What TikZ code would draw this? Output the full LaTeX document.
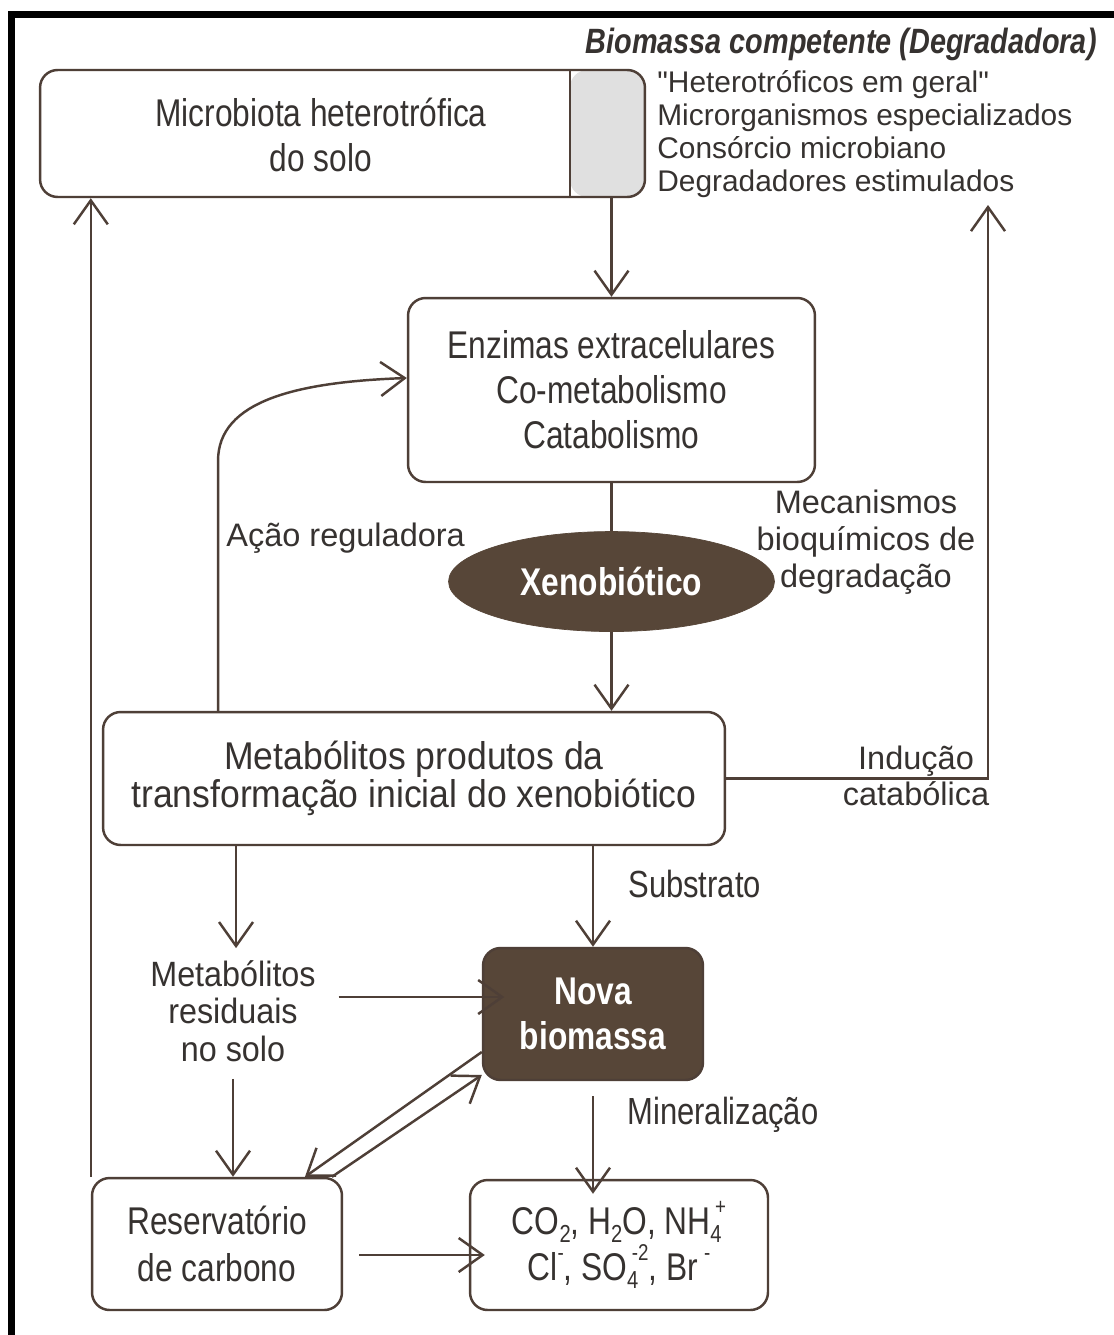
\documentclass[tikz,border=0pt]{standalone}
\usepackage{fontspec}
\setmainfont{Liberation Sans}
\newfontfamily\condfont[FakeStretch=0.82]{Liberation Sans}
\newfontfamily\midfont[FakeStretch=0.92]{Liberation Sans}
\newfontfamily\listfont[Ligatures=TeXOff]{Liberation Sans}
\usepackage{xcolor}
\usepackage{tikz}
\usetikzlibrary{arrows.meta,positioning,shapes.geometric}
\definecolor{lnc}{HTML}{4E3F37}
\definecolor{txc}{HTML}{363230}
\definecolor{dkc}{HTML}{574638}
\definecolor{stripc}{HTML}{E0E0E0}
\newcommand{\lowidx}[1]{\raisebox{-0.4ex}{\fontsize{14pt}{14pt}\selectfont #1}}
\newcommand{\highidx}[1]{\raisebox{0.95ex}{\fontsize{13pt}{13pt}\selectfont #1}}
\newcommand{\ionsup}[2]{\rlap{\lowidx{#1}}\kern0.12em\highidx{#2}}
\tikzset{
  fbox/.style={draw=lnc, line width=1.4pt, rounded corners=10pt, align=center, text=txc, inner sep=0pt, font={\condfont\fontsize{22pt}{25.6pt}\selectfont}},
  dbox/.style={fbox, fill=dkc, text=white, font={\condfont\bfseries\fontsize{22pt}{25.6pt}\selectfont}},
  flbl/.style={text=txc, align=center, inner sep=0pt, font={\fontsize{18.5pt}{21pt}\selectfont}},
  fline/.style={draw=lnc, line width=1.4pt},
  farr/.style={fline, -{Straight Barb[length=4.8mm,width=6.8mm]}}
}

\begin{document}
\begin{tikzpicture}[x=0.02cm, y=-0.02cm]
\fill[white] (0,0) rectangle (1114,1335);
\useasboundingbox (0,0) rectangle (1114,1335);
\fill[black] (8,11) rectangle (1114,18);
\fill[black] (8,11) rectangle (15,1335);

% top: soil microbiota
\node[fbox, minimum width=12.1cm, minimum height=2.54cm,
  path picture={\fill[stripc] ([xshift=-1.5cm]path picture bounding box.north east) rectangle (path picture bounding box.south east);
    \draw[fline] ([xshift=-1.5cm]path picture bounding box.north east) -- ([xshift=-1.5cm]path picture bounding box.south east);}] (micro) at (342.5,133.5) {};
\node[flbl, font={\condfont\fontsize{22pt}{25.6pt}\selectfont}] (microtxt) at (321,135) {Microbiota heterotrófica\\do solo};
\node[flbl, anchor=west, align=left, font={\listfont\fontsize{17pt}{18.8pt}\selectfont}] (lista) at (657,134) {"Heterotróficos em geral"\\Microrganismos especializados\\Consórcio microbiano\\Degradadores estimulados};
\node[anchor=east, text=txc, inner sep=0pt, font={\condfont\bfseries\itshape\fontsize{20pt}{24pt}\selectfont}] (titulo) at (1097,44) {Biomassa competente (Degradadora)};

% enzymes and xenobiotic
\node[fbox, minimum width=8.14cm, minimum height=3.68cm] (enz) at (611.5,390) {Enzimas extracelulares\\Co-metabolismo\\Catabolismo};
\node[ellipse, fill=dkc, draw=dkc, text=white, inner sep=0pt, minimum width=6.52cm, minimum height=2cm, below=0.96cm of enz, font={\condfont\bfseries\fontsize{22pt}{26pt}\selectfont}] (xeno) {Xenobiótico};
\node[flbl] (mecan) at (866,542) {Mecanismos\\bioquímicos de\\degradação};
\node[flbl, anchor=west] (acao) at (226,538) {Ação reguladora};

% metabolites
\node[fbox, minimum width=12.44cm, minimum height=2.66cm, font={\midfont\fontsize{22pt}{21.6pt}\selectfont}] (meta) at (414,778.5) {Metabólitos produtos da\\transformação inicial do xenobiótico};
\node[flbl, font={\fontsize{18.5pt}{20.4pt}\selectfont}] (induc) at (916,776) {Indução\\catabólica};
\coordinate (indtop) at (988,205);
\node[flbl, font={\midfont\fontsize{20pt}{21.3pt}\selectfont}] (resid) at (233,1011) {Metabólitos\\residuais\\no solo};
\node[flbl, anchor=west, font={\condfont\fontsize{21.5pt}{24pt}\selectfont}] (subs) at (628,884) {Substrato};

% bottom
\node[dbox, minimum width=4.4cm, minimum height=2.64cm] (nova) at (593,1014) {Nova\\biomassa};
\node[flbl, anchor=west, font={\condfont\fontsize{21.5pt}{24pt}\selectfont}] (miner) at (627,1115) {Mineralização};
\node[fbox, minimum width=5cm, minimum height=2.64cm, font={\condfont\fontsize{22pt}{26.6pt}\selectfont}] (reserv) at (217,1244) {Reservatório\\de carbono};
\node[fbox, minimum width=5.96cm, minimum height=2.6cm, font={\condfont\fontsize{22pt}{26pt}\selectfont}] (minerais) at (619,1245) {CO\lowidx{2}, H\lowidx{2}O, NH\ionsup{4}{+}\\Cl\highidx{-}, SO\ionsup{4}{-2}, Br\,\highidx{-}};

% connectors
\draw[farr] (micro.south -| enz.north) -- (enz.north);
\draw[fline] (enz.south) -- (xeno.north);
\draw[farr] (xeno.south) -- (xeno.south |- meta.north);
\draw[farr] ([xshift=-3.92cm]meta.north) -- ++(0,-250) .. controls +(0,-60) and +(-110,4) .. ([yshift=0.24cm]enz.west);
\draw[farr] (meta.east) -| (indtop);
\draw[farr] ([xshift=-3.56cm]meta.south) -- ([xshift=-3.56cm,yshift=0.24cm]meta.south |- resid.north);
\draw[farr] (meta.south -| nova.north) -- (nova.north);
\draw[farr] ([xshift=0.45cm,yshift=0.28cm]resid.east) -- ([xshift=0.45cm,yshift=0.28cm]resid.east -| nova.west);
\draw[farr] ([yshift=-0.34cm]resid.south) -- (resid.south |- reserv.north);
\draw[farr] ([yshift=-0.76cm]nova.west) -- ([xshift=1.76cm]reserv.north);
\draw[farr] ([xshift=2.3cm]reserv.north) -- ([yshift=-1.22cm]nova.west);
\draw[farr] ([yshift=-0.3cm]nova.south) -- ([yshift=-0.3cm]nova.south |- minerais.north);
\draw[farr] ([xshift=0.32cm,yshift=-0.22cm]reserv.east) -- ([xshift=0.32cm,yshift=-0.22cm]reserv.east -| minerais.west);
\draw[farr] (reserv.north west) -- (reserv.north west |- micro.south);
\end{tikzpicture}
\end{document}
